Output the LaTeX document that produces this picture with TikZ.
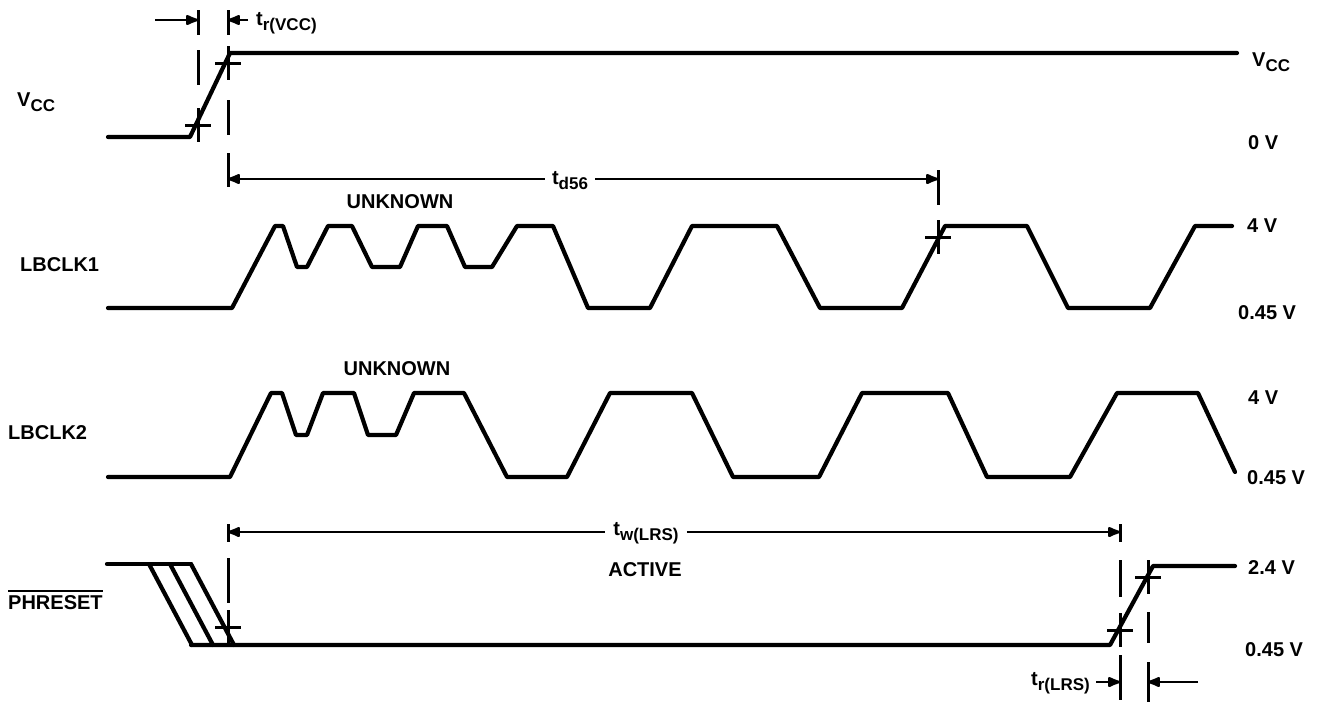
\documentclass[tikz,border=0pt]{standalone}
\usepackage{fontspec}
\setmainfont{Liberation Sans}
\usetikzlibrary{arrows.meta,calc}
\tikzset{>={Latex[round,length=16pt,width=12pt]}}
\tikzstyle{wave}=[line width=4.2pt,line join=round,line cap=round]
\tikzstyle{guide}=[line width=3pt]
\tikzstyle{dimline}=[line width=2.6pt]
\tikzstyle{sig}=[font=\bfseries\fontsize{20}{22}\selectfont,inner sep=0pt]
\newcommand{\lowsub}[1]{\raisebox{-5pt}{\fontsize{17}{18}\selectfont #1}}

\begin{document}
\begin{tikzpicture}[x=1pt,y=-1pt]
	\useasboundingbox (0,0) rectangle (1327,707);

	% waveforms
	\draw[wave] (108,137) -- (190,137) -- (230,53) -- (1237,53);
	\draw[wave] (108,308) -- (232,308) -- (275,226) -- (283,226) -- (297,267) -- (307,267) -- (328,226) -- (352,226) -- (372,267) -- (400,267) -- (418,226) -- (447,226) -- (465,267) -- (492,267) -- (517,226) -- (553,226) -- (588,308) -- (650,308) -- (692,226) -- (777,226) -- (820,308) -- (902,308) -- (945,226) -- (1027,226) -- (1068,308) -- (1150,308) -- (1195,226) -- (1232,226);
	\draw[wave] (108,477) -- (230,477) -- (271,393) -- (282,393) -- (296,435) -- (307,435) -- (323,393) -- (354,393) -- (368,435) -- (396,435) -- (414,393) -- (464,393) -- (507,477) -- (567,477) -- (610,393) -- (692,393) -- (733,477) -- (819,477) -- (862,393) -- (948,393) -- (987,477) -- (1070,477) -- (1117,393) -- (1198,393) -- (1235,472);
	\draw[wave] (107,564) -- (191,564);
	\foreach \x in {149,170,191} {
		\draw[wave] (\x,564) -- (\x+43,645);
	};
	\draw[wave] (191,645) -- (1110,645) -- (1153,566) -- (1235,566);

	% guide lines
	\foreach \x/\a/\b in {198/10/35, 198/50/85, 228/10/35, 228/100/135, 228/153/187, 938/170/205, 228/524/542, 228/558/603, 1120/524/542, 1120/560/597, 1120/655/700, 1148/612/643, 1148/662/702} {
		\draw[guide] (\x,\a) -- (\x,\b);
	};
	\foreach \x/\y in {198/125, 228/63, 938/237, 228/627, 1120/630, 1148/577} {
		\draw[guide] (\x-13,\y) -- (\x+13,\y);
		\draw[guide] (\x,\y-17) -- (\x,\y+17);
	};

	% timing arrows
	\coordinate (rvA) at (155,20);
	\coordinate (rvB) at (198,20);
	\coordinate (rvC) at (228,20);
	\coordinate (rvD) at (248,20);
	\draw[dimline,->] (rvA) -- (rvB);
	\draw[dimline,->] (rvD) -- (rvC);
	\node[sig,anchor=west] (trvcc) at (256,23) {t\lowsub{r(VCC)}};

	\coordinate (dA) at (228,179);
	\coordinate (dB) at (938,179);
	\node[sig,inner xsep=7pt] (td) at (570,181) {t\lowsub{d56}};
	\draw[dimline,<-] (dA) -- (td.west |- dA);
	\draw[dimline,->] (td.east |- dB) -- (dB);

	\coordinate (wA) at (228,532);
	\coordinate (wB) at (1120,532);
	\node[sig,inner xsep=8pt] (tw) at (646,533) {t\lowsub{w(LRS)}};
	\draw[dimline,<-] (wA) -- (tw.west |- wA);
	\draw[dimline,->] (tw.east |- wB) -- (wB);

	\coordinate (lA) at (1120,682);
	\coordinate (lB) at (1148,682);
	\coordinate (lC) at (1198,682);
	\node[sig,anchor=east,inner xsep=6pt] (trlrs) at (1096,683) {t\lowsub{r(LRS)}};
	\draw[dimline,->] (trlrs.east |- lA) -- (lA);
	\draw[dimline,->] (lC) -- (lB);

	% signal names and levels
	\node[sig,anchor=west] (nvcc) at (17,102) {V\lowsub{CC}};
	\node[sig,anchor=west] (nclk1) at (20,265) {LBCLK1};
	\node[sig,anchor=west] (nclk2) at (8,433) {LBCLK2};
	\node[sig,anchor=west] (nrst) at (8,603) {PHRESET};
	\draw[line width=2pt] ([yshift=5pt]nrst.north west) -- ([yshift=5pt]nrst.north east);

	\node[sig,anchor=west] (lvcc) at (1252,62) {V\lowsub{CC}};
	\node[sig,anchor=west] (l0v) at (1248,143) {0 V};
	\node[sig,anchor=west] (l4a) at (1247,226) {4 V};
	\node[sig,anchor=west] (l045a) at (1238,313) {0.45 V};
	\node[sig,anchor=west] (l4b) at (1248,398) {4 V};
	\node[sig,anchor=west] (l045b) at (1247,478) {0.45 V};
	\node[sig,anchor=west] (l24) at (1248,568) {2.4 V};
	\node[sig,anchor=west] (l045c) at (1245,650) {0.45 V};

	\node[sig] (unk1) at (400,202) {UNKNOWN};
	\node[sig] (unk2) at (397,369) {UNKNOWN};
	\node[sig] (act) at (645,570) {ACTIVE};
\end{tikzpicture}
\end{document}
